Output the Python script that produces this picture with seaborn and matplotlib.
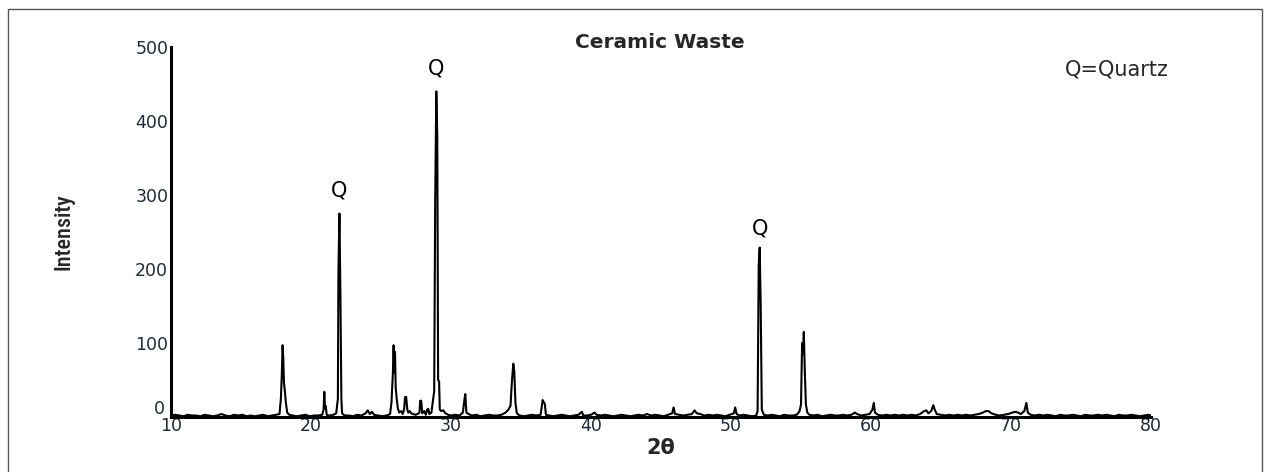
import matplotlib
matplotlib.use("Agg")
import matplotlib.pyplot as plt
import matplotlib.patches as mpatches
import matplotlib.transforms as mtransforms
import seaborn as sns
import pandas as pd

two_theta = [
    10.0, 10.3, 10.6, 10.9, 11.2, 11.5, 11.8, 12.1, 12.4, 12.7, 13.0, 13.3, 13.6, 13.9, 14.2, 14.5,
    14.8, 15.1, 15.4, 15.7, 16.0, 16.3, 16.6, 16.9, 17.2, 17.5,
    17.75, 17.85, 17.92, 17.97, 18.02, 18.07, 18.12, 18.2, 18.3, 18.45,
    18.7, 19.0, 19.3, 19.6, 19.9, 20.2, 20.5, 20.8,
    20.9, 20.95, 21.0, 21.05, 21.12,
    21.3, 21.6, 21.8, 21.92, 21.96, 22.03, 22.1, 22.17, 22.22, 22.4,
    22.7, 23.0, 23.3, 23.6, 23.9, 24.05, 24.2, 24.35, 24.5, 24.8, 25.1, 25.4, 25.65,
    25.75, 25.85, 25.9, 25.95, 26.0, 26.05, 26.12, 26.2, 26.3, 26.45, 26.55, 26.65, 26.72, 26.8,
    26.88, 26.95, 27.05, 27.15, 27.3, 27.45, 27.6, 27.75, 27.8, 27.87, 27.95, 28.1, 28.2, 28.3,
    28.38, 28.45, 28.6, 28.8, 28.87, 28.95, 29.02, 29.08, 29.15, 29.2, 29.3, 29.45, 29.6, 29.8,
    30.0, 30.3, 30.6, 30.85, 30.95, 31.02, 31.1, 31.25, 31.5, 31.8, 32.1, 32.4, 32.7, 33.0, 33.3,
    33.6, 33.9, 34.1, 34.25, 34.35, 34.45, 34.52, 34.6, 34.7, 34.9, 35.2, 35.5, 35.8, 36.1, 36.4,
    36.55, 36.62, 36.7, 36.78, 37.0, 37.3, 37.6, 37.9, 38.2, 38.5, 38.8, 39.1, 39.35, 39.45, 39.7,
    40.0, 40.25, 40.4, 40.7, 41.0, 41.3, 41.6, 41.9, 42.2, 42.5, 42.8, 43.1, 43.4, 43.7, 44.0,
    44.3, 44.6, 44.9, 45.2, 45.5, 45.8, 45.9, 46.0, 46.3, 46.6, 46.9, 47.2, 47.4, 47.55, 47.8,
    48.1, 48.4, 48.7, 49.0, 49.3, 49.6, 49.9, 50.2, 50.3, 50.4, 50.6, 50.9, 51.2, 51.5, 51.8,
    51.9, 51.98, 52.05, 52.12, 52.2, 52.35, 52.6, 52.9, 53.2, 53.5, 53.8, 54.1, 54.4, 54.7, 54.9,
    55.0, 55.08, 55.15, 55.2, 55.27, 55.35, 55.45, 55.6, 55.9, 56.2, 56.5, 56.8, 57.1, 57.4, 57.7,
    58.0, 58.3, 58.6, 58.85, 59.0, 59.3, 59.6, 59.9, 60.1, 60.2, 60.28, 60.5, 60.8, 61.1, 61.4,
    61.7, 62.0, 62.3, 62.6, 62.9, 63.2, 63.5, 63.8, 63.95, 64.1, 64.3, 64.45, 64.55, 64.7, 65.0,
    65.3, 65.6, 65.9, 66.2, 66.5, 66.8, 67.1, 67.4, 67.7, 68.0, 68.2, 68.4, 68.6, 68.9, 69.2,
    69.5, 69.8, 70.1, 70.3, 70.5, 70.7, 70.95, 71.1, 71.2, 71.4, 71.7, 72.0, 72.3, 72.6, 72.9,
    73.2, 73.5, 73.8, 74.1, 74.4, 74.7, 75.0, 75.3, 75.6, 75.9, 76.2, 76.5, 76.8, 77.1, 77.4,
    77.7, 78.0, 78.3, 78.6, 78.9, 79.2, 79.5, 79.8, 80.0,
]

intensity = [
    2, 3, 2, 1, 3, 2, 2, 1, 3, 2, 1, 2, 4, 2, 1, 3,
    2, 3, 1, 2, 1, 2, 3, 1, 2, 3,
    4, 25, 60, 97, 80, 45, 38, 20, 6, 3,
    2, 1, 2, 3, 1, 2, 2, 3,
    10, 34, 12, 15, 3,
    2, 3, 5, 25, 198, 275, 167, 24, 5, 2,
    2, 1, 3, 2, 5, 9, 4, 7, 3, 2, 1, 2, 4,
    20, 60, 97, 60, 88, 40, 25, 12, 6, 8, 4, 10, 27, 27,
    10, 6, 8, 5, 4, 3, 4, 6, 22, 22, 5, 8, 3, 10,
    11, 4, 6, 35, 290, 440, 380, 50, 48, 10, 8, 9, 5, 3,
    2, 3, 2, 6, 22, 31, 6, 4, 2, 3, 1, 2, 3, 2, 2,
    3, 6, 10, 15, 48, 72, 62, 20, 5, 2, 1, 2, 3, 2, 3,
    23, 20, 18, 3, 2, 1, 2, 3, 2, 1, 2, 3, 7, 2, 2,
    3, 6, 3, 2, 3, 2, 1, 2, 3, 2, 1, 2, 3, 2, 4,
    2, 3, 2, 1, 3, 5, 13, 4, 3, 2, 3, 4, 9, 5, 4,
    2, 3, 2, 3, 2, 1, 3, 5, 13, 4, 2, 3, 2, 1, 2,
    8, 205, 229, 152, 10, 3, 2, 3, 2, 1, 3, 2, 2, 3, 8,
    17, 100, 85, 115, 63, 17, 6, 3, 2, 3, 1, 2, 3, 2, 2,
    3, 2, 3, 6, 4, 2, 3, 4, 10, 19, 6, 3, 2, 3, 2,
    3, 2, 3, 2, 3, 2, 4, 8, 9, 5, 8, 16, 10, 4, 3,
    2, 3, 2, 3, 2, 3, 2, 3, 4, 6, 8, 8, 5, 3, 2,
    3, 4, 6, 7, 6, 4, 8, 19, 6, 3, 2, 3, 2, 3, 2,
    1, 3, 2, 2, 3, 2, 1, 3, 2, 2, 3, 2, 3, 2, 1,
    3, 2, 2, 3, 2, 1, 2, 3, 2,
]

peak_labels = ["Q", "Q", "Q"]
peak_label_x = [22.0, 28.95, 52.05]
peak_label_y = [293, 458, 241]

x_ticks = [10, 20, 30, 40, 50, 60, 70, 80]
y_ticks = [0, 100, 200, 300, 400, 500]

df = pd.DataFrame({"two_theta": two_theta, "intensity": intensity})

sns.set_theme(style="white")
plt.rcParams["font.family"] = ["DejaVu Sans"]

fig = plt.figure(figsize=(12.71, 4.72), dpi=100)
ax = fig.add_axes([171 / 1271, 1 - 417 / 472, 980 / 1271, 370 / 472])

sns.lineplot(data=df, x="two_theta", y="intensity", ax=ax, color="black",
             linewidth=1.5, estimator=None, sort=False)

ax.set_xlim(10, 80)
ax.set_ylim(0, 500)
ax.set_xticks(x_ticks)
ax.set_yticks(y_ticks)
ax.set_xticklabels([str(t) for t in x_ticks], fontsize=12.5, color="#1f2a3a")
ax.set_yticklabels([str(t) for t in y_ticks], fontsize=12.5, color="#1f2a3a")
ax.tick_params(axis="both", length=0)
ax.tick_params(axis="y", pad=2)
ax.tick_params(axis="x", pad=0)
# lift the "0" label slightly so it sits above the "10" label as in the reference
zero_lab = ax.get_yticklabels()[0]
zero_lab.set_transform(zero_lab.get_transform() +
                       mtransforms.ScaledTranslation(-3 / 100, 10 / 100, fig.dpi_scale_trans))
for s in ["top", "right"]:
    ax.spines[s].set_visible(False)
for s in ["left", "bottom"]:
    ax.spines[s].set_color("black")
    ax.spines[s].set_linewidth(2.2)
ax.set_facecolor("white")

ax.set_xlabel("2θ", fontsize=15, fontweight="bold", labelpad=2)
ax.set_ylabel("Intensity", fontsize=16, labelpad=44, fontweight="medium",
              family=["Liberation Sans Narrow", "DejaVu Sans Condensed",
                      "Roboto Condensed", "Liberation Sans"])

for lab, lx, ly in zip(peak_labels, peak_label_x, peak_label_y):
    ax.text(lx, ly, lab, ha="center", va="bottom", fontsize=15, color="black")

fig.text(660 / 1271, 1 - 42 / 472, "Ceramic Waste", ha="center", va="center",
         fontsize=14.5, fontweight="bold")
fig.text(1117 / 1271, 1 - 69 / 472, "Q=Quartz", ha="center", va="center",
         fontsize=15)

frame = mpatches.Rectangle((8 / 1271, -0.05), (1262 - 8) / 1271, 1.05 - 9 / 472,
                           transform=fig.transFigure, fill=False,
                           edgecolor="#555555", linewidth=1.0)
fig.patches.append(frame)

fig.savefig("out.png", dpi=100, facecolor="white")
